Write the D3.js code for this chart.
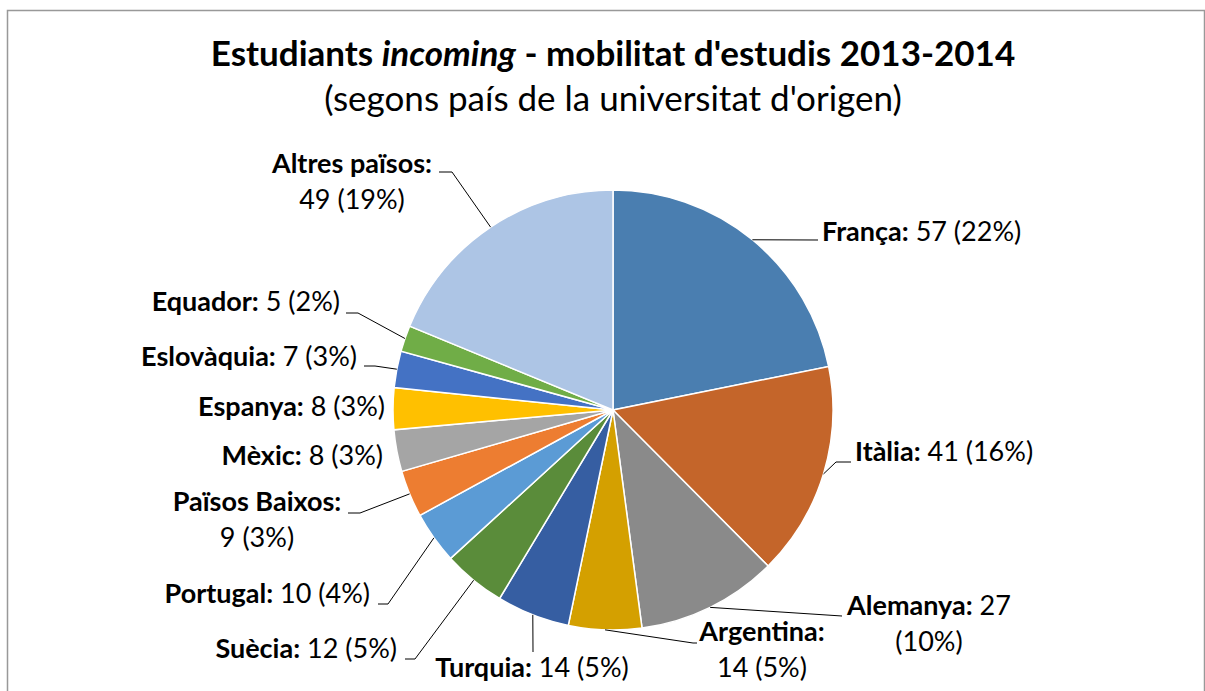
<!DOCTYPE html>
<html>
<head>
<meta charset="utf-8">
<script src="https://cdn.jsdelivr.net/npm/d3@7"></script>
<style>
  body { margin: 0; background: #fff; }
  svg { display: block; font-family: Lato, "Open Sans", sans-serif; }
</style>
</head>
<body>
<svg id="chart" width="1205" height="691"></svg>
<script>
// data
var categories = ["França", "Itàlia", "Alemanya", "Argentina", "Turquia", "Suècia", "Portugal",
                  "Països Baixos", "Mèxic", "Espanya", "Eslovàquia", "Equador", "Altres països"];
var values = [57, 41, 27, 14, 14, 12, 10, 9, 8, 8, 7, 5, 49];
var colors = ["#4a7eb0", "#c4652a", "#8a8a8a", "#d4a000", "#365ea2", "#5a8c3a", "#5b9bd5",
              "#ed7d31", "#a5a5a5", "#ffc000", "#4472c4", "#70ad47", "#adc5e5"];

// label layout (wrap: 0 one line, 1 name / value, 2 name+value / pct)
var labelLayout = [
  {x: 822, y: 241, anchor: "start",  wrap: 0, leader: [[818, 240]]},
  {x: 855, y: 461, anchor: "start",  wrap: 0, leader: [[836, 462], [851, 462]]},
  {x: 929, y: 615, anchor: "middle", wrap: 2, leader: [[842, 616]]},
  {x: 762, y: 641, anchor: "middle", wrap: 1, leader: [[693, 643], [697, 643]]},
  {x: 532, y: 677, anchor: "middle", wrap: 0, leader: [[533, 652]]},
  {x: 397, y: 658, anchor: "end",    wrap: 0, leader: [[415, 659], [405, 659]]},
  {x: 370, y: 603, anchor: "end",    wrap: 0, leader: [[388, 604], [378, 604]]},
  {x: 257, y: 511, anchor: "middle", wrap: 1, leader: [[360, 513], [348, 513]]},
  {x: 383, y: 465, anchor: "end",    wrap: 0, leader: null},
  {x: 385, y: 416, anchor: "end",    wrap: 0, leader: null},
  {x: 357, y: 366, anchor: "end",    wrap: 0, leader: [[375, 366], [364, 366]]},
  {x: 340, y: 311, anchor: "end",    wrap: 0, leader: [[358, 313], [346, 313]]},
  {x: 352, y: 173, anchor: "middle", wrap: 1, leader: [[452, 172], [439, 172]]}
];

var svg = d3.select("#chart");
var cx = 613, cy = 410, radius = 220;
var lineH = 36;

// frame
svg.append("rect")
  .attr("x", 7.5).attr("y", 10.5)
  .attr("width", 1197).attr("height", 700)
  .attr("fill", "none")
  .attr("stroke", "#999")
  .attr("stroke-width", 1.5);

// title
svg.append("text")
  .attr("x", cx).attr("y", 66)
  .attr("text-anchor", "middle")
  .style("font-size", "35px")
  .style("font-weight", "bold")
  .call(function(t) {
    t.append("tspan").text("Estudiants ");
    t.append("tspan").style("font-style", "italic").text("incoming");
    t.append("tspan").text(" - mobilitat d'estudis 2013-2014");
  });

svg.append("text")
  .attr("x", cx).attr("y", 111)
  .attr("text-anchor", "middle")
  .style("font-size", "35px")
  .text("(segons país de la universitat d'origen)");

var total = d3.sum(values);
var pie = d3.pie().sort(null).value(function(d) { return d; });
var arcs = pie(values);
var arc = d3.arc().innerRadius(0).outerRadius(radius);

var g = svg.append("g").attr("transform", "translate(" + cx + "," + cy + ")");

g.selectAll("path.slice")
  .data(arcs)
  .enter().append("path")
  .attr("class", "slice")
  .attr("d", arc)
  .attr("fill", function(d, i) { return colors[i]; })
  .attr("stroke", "#fff")
  .attr("stroke-width", 1.5);

// leader lines
arcs.forEach(function(d, i) {
  var lay = labelLayout[i];
  if (!lay.leader) return;
  var mid = (d.startAngle + d.endAngle) / 2;
  var pts = [[cx + radius * Math.sin(mid), cy - radius * Math.cos(mid)]].concat(lay.leader);
  svg.append("path")
    .attr("d", d3.line()(pts))
    .attr("fill", "none")
    .attr("stroke", "#000")
    .attr("stroke-width", 1);
});

// labels
arcs.forEach(function(d, i) {
  var lay = labelLayout[i];
  var pct = Math.round(values[i] / total * 100) + "%";
  var name = categories[i] + ":";
  var lines;
  if (lay.wrap === 0) lines = [[[name, true], [" " + values[i] + " (" + pct + ")", false]]];
  else if (lay.wrap === 1) lines = [[[name, true]], [[values[i] + " (" + pct + ")", false]]];
  else lines = [[[name, true], [" " + values[i], false]], [["(" + pct + ")", false]]];

  lines.forEach(function(line, k) {
    var t = svg.append("text")
      .attr("x", lay.x)
      .attr("y", lay.y + k * lineH)
      .attr("text-anchor", lay.anchor)
      .style("font-size", "27px")
      .attr("fill", "#000");
    line.forEach(function(part) {
      t.append("tspan")
        .style("font-weight", part[1] ? "bold" : "normal")
        .text(part[0]);
    });
  });
});
</script>
</body>
</html>
